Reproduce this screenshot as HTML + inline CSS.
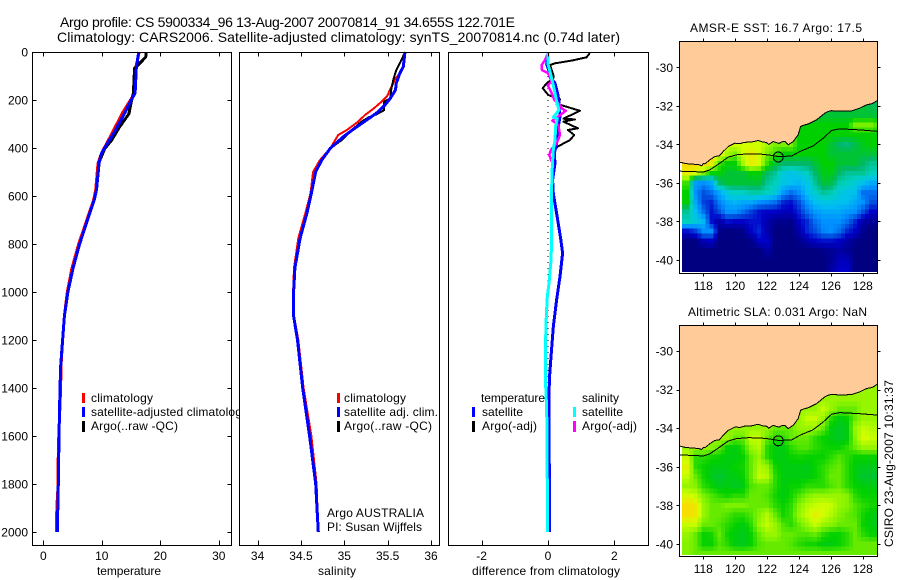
<!DOCTYPE html>
<html>
<head>
<meta charset="utf-8">
<title>Argo profile</title>
<style>
html,body{margin:0;padding:0;background:#fff;}
svg{display:block;}
text{font-family:"Liberation Sans",Arial,sans-serif;font-size:12px;fill:#000;}
.title{font-size:14px;}
</style>
</head>
<body>
<svg id="fig" xmlns="http://www.w3.org/2000/svg" width="900" height="580" viewBox="0 0 900 580">
  <rect x="0" y="0" width="900" height="580" fill="#fff"/>
  <text class="title" x="60" y="27" textLength="455" lengthAdjust="spacing">Argo profile: CS 5900334_96 13-Aug-2007 20070814_91 34.655S 122.701E</text>
  <text class="title" x="57" y="42" textLength="563" lengthAdjust="spacing">Climatology: CARS2006. Satellite-adjusted climatology: synTS_20070814.nc (0.74d later)</text>

  <g id="panel-t">
    <rect x="32.5" y="52.5" width="199" height="493" fill="#fff"/>
    <g id="lines-t"></g>
    <g>
      <rect x="82" y="393" width="3" height="10" fill="#f00"/>
      <rect x="82" y="407" width="3" height="10" fill="#00f"/>
      <rect x="82" y="421" width="3" height="11" fill="#000"/>
      <text x="91" y="402" textLength="62">climatology</text>
      <text x="91" y="416" textLength="157">satellite-adjusted climatology</text>
      <text x="91" y="430" textLength="87">Argo(..raw -QC)</text>
    </g>
    <text x="97" y="575" textLength="64">temperature</text>
  </g>

  <g id="panel-s">
    <rect x="239.5" y="52.5" width="200" height="493" fill="#fff"/>
    <g id="lines-s"></g>
    <g>
      <rect x="337" y="393" width="3" height="10" fill="#f00"/>
      <rect x="337" y="407" width="3" height="10" fill="#00f"/>
      <rect x="337" y="421" width="3" height="11" fill="#000"/>
      <text x="344" y="402" textLength="62">climatology</text>
      <text x="344" y="416" textLength="94">satellite adj. clim.</text>
      <text x="344" y="430" textLength="88">Argo(..raw -QC)</text>
    </g>
    <text x="327" y="517" textLength="97">Argo AUSTRALIA</text>
    <text x="327" y="531" textLength="95">PI: Susan Wijffels</text>
    <text x="318" y="575" textLength="38">salinity</text>
  </g>

  <g id="panel-d">
    <rect x="448.5" y="52.5" width="200" height="493" fill="#fff"/>
    <g id="lines-d"></g>
    <g>
      <text x="481" y="402" textLength="64">temperature</text>
      <text x="582" y="402" textLength="37">salinity</text>
      <rect x="472" y="407" width="3" height="10" fill="#00f"/>
      <rect x="472" y="421" width="3" height="11" fill="#000"/>
      <rect x="573" y="407" width="3" height="10" fill="#0ff"/>
      <rect x="573" y="421" width="3" height="11" fill="#f0f"/>
      <text x="482" y="416" textLength="41">satellite</text>
      <text x="482" y="430" textLength="55">Argo(-adj)</text>
      <text x="582" y="416" textLength="41">satellite</text>
      <text x="582" y="430" textLength="55">Argo(-adj)</text>
    </g>
    <text x="472" y="575" textLength="148">difference from climatology</text>
  </g>

  <text x="690" y="32" textLength="172">AMSR-E SST: 16.7 Argo: 17.5</text>
  <text x="688" y="316" textLength="179">Altimetric SLA: 0.031 Argo: NaN</text>
  <text transform="translate(893,547) rotate(-90)" textLength="167">CSIRO 23-Aug-2007 10:31:37</text>
  <g id="maps"></g>
</svg>

<script>
// ---------- Profile data (depth in m) ----------
const depthTicks = [0,200,400,600,800,1000,1200,1400,1600,1800,2000];
const tempTicks = [0,10,20,30];
const salTicks = [34,34.5,35,35.5,36];
const salTickLabels = ["34","34.5","35","35.5","36"];
const diffTicks = [-2,0,2];

const tempSatDepth = [0,67,171,200,255,332,387,422,465,575,617,800,900,1000,1100,1200,1300,1400,1600,1800,2000];
const tempSatValue = [16.3,15.9,15.7,15.05,13.9,12.2,10.8,9.95,9.5,9.1,8.7,6.2,5.1,4.2,3.6,3.3,3.0,2.85,2.68,2.56,2.4];
const tempClimDepth = [0,67,171,200,255,332,387,422,465,575,617,800,900,1000,1100,1200,1300,1400,1600,1700,1800,1900,2000];
const tempClimValue = [16.4,15.8,15.7,14.9,13.5,11.9,10.7,9.95,9.35,8.95,8.6,6.05,4.9,4.1,3.6,3.3,3.05,2.95,2.65,2.55,2.55,2.3,2.25];
const tempArgoDepth = [0,21,47,67,171,222,257,312,368,403,458,575,617,800,900,1000,1100,1200,1300,1400,1600,1800,2000];
const tempArgoValue = [17.6,17.5,16.5,15.6,15.4,14.9,14.65,13.05,11.65,10.5,9.55,9.1,8.7,6.2,5.1,4.2,3.6,3.3,3.0,2.85,2.68,2.56,2.4];

const salSatDepth = [0,61,89,130,158,193,221,255,283,318,353,401,450,499,588,671,776,900,1000,1100,1200,1300,1400,1600,1800,2000];
const salSatValue = [35.70,35.68,35.64,35.6,35.59,35.53,35.47,35.37,35.26,35.12,34.99,34.84,34.74,34.67,34.62,34.57,34.49,34.43,34.415,34.415,34.46,34.49,34.52,34.6,34.67,34.70];
const salClimDepth = [0,54,89,110,186,207,235,262,290,325,346,401,450,499,589,672,776,900,1000,1100,1200,1300,1400,1600,1800,2000];
const salClimValue = [35.70,35.69,35.64,35.59,35.49,35.43,35.34,35.24,35.16,35.03,34.93,34.84,34.72,34.64,34.61,34.55,34.47,34.42,34.41,34.42,34.47,34.5,34.53,34.62,34.68,34.70];
const salArgoDepth = [0,40,75,110,158,193,207,242,260,272,290,315,367,401,450,499,588,671,776,900,1000,1100,1200,1300,1400,1600,1800,2000];
const salArgoValue = [35.70,35.65,35.6,35.57,35.54,35.53,35.46,35.46,35.37,35.28,35.2,35.12,34.97,34.84,34.74,34.67,34.62,34.57,34.49,34.43,34.415,34.415,34.46,34.49,34.52,34.6,34.67,34.70];

const diffTSatDepth = [0,50,110,130,172,208,269,311,380,422,464,533,589,672,776,838,936,1033,1145,1270,1367,1546,2000];
const diffTSatValue = [0,-0.04,0.1,0.21,0.29,0.33,0.36,0.31,0.26,0.19,0.21,0.14,0.16,0.26,0.38,0.44,0.36,0.26,0.16,0.09,0.04,0.03,0.05];
const diffTArgoDepth = [5,22,36,47,54,96,110,130,151,179,197,215,245,278,281,290,318,325,346,367,394,420,480];
const diffTArgoValue = [1.26,1.16,0.71,0.21,0.06,0.16,0.16,-0.04,-0.16,0.01,0.36,0.25,0.96,0.46,0.81,0.46,0.9,0.6,0.79,0.66,0.29,0.15,0.15];
const diffSSatDepth = [0,50,110,158,205,242,272,278,311,367,408,478,561,776,867,964,1020,1103,1186,1395,1492,1800,2000];
const diffSSatValue = [0,0,0.11,0.19,0.26,0.33,0.16,0.28,0.23,0.21,0.16,0.13,0.11,0.11,0.09,0.03,-0.02,-0.05,-0.07,-0.07,-0.04,-0.02,-0.01];
const diffSArgoDepth = [5,33,54,75,89,124,138,172,200,221,235,245,264,286,304,346,380,408,429,457];
const diffSArgoValue = [0,-0.09,-0.19,-0.18,0.01,0.11,-0.01,0.11,0.19,0.36,0.41,0.53,0.36,0.13,0.31,0.36,0.26,0.09,0.04,0.11];
const zeroLineDepth = [0,2000];
const zeroLineValue = [0,0];

// ---------- Map data ----------
const latTicks = [30,32,34,36,38,40];
const lonTicks = [118,120,122,124,126,128];
const coastLon = [116.5,116.9,117.37,117.7,117.9,118.0,118.1,118.42,118.73,119.0,119.25,119.57,119.98,120.3,120.6,121.0,121.44,121.7,121.97,122.1,122.38,122.75,122.9,123.11,123.32,123.64,123.95,124.1,124.3,124.58,125.1,125.62,125.8,126.04,126.6,127.29,127.8,128.23,128.6,128.9];
const coastLat = [34.92,35.0,35.03,35.05,35.11,35.0,35.01,34.8,34.63,34.6,34.37,34.11,33.94,33.96,33.89,33.88,33.8,33.87,33.9,34.0,33.85,33.95,33.87,33.85,34.02,33.85,33.5,33.07,33.0,32.94,32.73,32.38,32.3,32.25,32.28,32.26,32.12,31.95,31.88,31.73];
const contourLon = [116.5,117.37,118,118.42,119.04,119.57,120.09,120.82,121.55,122.18,122.7,123.53,124.05,124.89,125.52,126.04,126.56,127.82,128.9];
const contourLat = [35.39,35.41,35.44,35.32,34.97,34.66,34.54,34.49,34.5,34.56,34.63,34.61,34.37,34.08,33.68,33.28,33.19,33.25,33.32];
const floatLon = 122.7;
const floatLat = 34.655;

const gridLonStart = 117;
const gridLatStart = 32;
const gridStep = 0.5;
// colour-index values, one row per 0.5 deg latitude from 32S to 40.5S, columns from 117E to 129E
const sstRows = [
[6.5,6.5,6.5,6.5,6.5,6.5,6.5,6.5,6.5,6.5,6.5,6.5,6.5,6.5,6.5,6.5,6.5,6.5,6.5,6.5,6.5,6.5,6.5,6.2,6],
[6.5,6.5,6.5,6.5,6.5,6.5,6.5,6.5,6.5,6.5,6.5,6.5,6.5,6.5,6.5,6.5,6.5,6.5,6.5,6.5,6.5,6.5,6.5,6.5,6.5],
[7,7,7,7,7,7,7,7,7,7,7,7,7,7,7,7,7,7,7,7,7,8,8,8,7.5],
[8,8,8,8,8,8,8,8,8,8,8,8,8,8,7,7,7,7,7,7,7,7,7,7,7],
[9,9,9,9,9,9,9,9,9,9,8.5,8,8,8,7,7,7,7,6.5,6,5.8,6.3,6.8,7,7],
[10,10,10,10,9.5,8.5,8,9,9.5,9,8,7.5,7,7,7,7,7,7,6.5,6.5,6.5,6.5,6.5,6.5,6.5],
[10,10,10,9.5,7.5,7,7,8.5,9.5,9,7.5,6.5,6,6,6,6,6.5,7,7,6.5,6.5,6.5,6,5.5,5.5],
[9.5,9,8,7,7,6.5,6.5,6.5,7,7,6,5.5,4.5,4.2,4.5,5,6,6.8,6.8,6,5.5,5.5,5.5,5,5],
[7.5,3.3,3,3.5,6,6.5,6.5,6.5,6.5,6.5,5.5,5,4.2,4,3.8,4.2,5.5,6.5,6.3,5.2,5,4.5,4,3.5,3.5],
[7,3,2,2.5,3.5,4.5,5,5,5.3,5.3,5,4.5,3.2,2.5,3,4,4.8,5.5,5.2,4.5,4.2,4,2.5,2.5,2.5],
[7,3.5,1.8,1.5,2.8,3.5,3.8,3.5,3.5,3,2.8,2.5,1.5,1.2,2,3.2,4,4.3,4.3,4,4,3.5,3,2,2],
[5.5,4,2.5,1.2,2,3,3,2.5,1.8,1.2,1,1,0.8,0.8,1.5,2.5,3.2,3.5,3.5,3.5,3.2,3,2,1,1],
[5,4.5,3.8,1.2,0.5,1.2,1,1,1.2,1.2,0.6,0.2,0.2,0.2,1,1.5,2.5,3,3,3,2.5,1.5,0.5,0.3,0.3],
[1.2,1.8,3,3,0.2,0,0,0.2,1,1.5,0.6,0,0,0,0.6,1.5,2,2.8,3,2.5,1.5,1,0.2,0,0],
[0,0,0.8,1,0,0,0,0,0.2,1,1,0,0,0,0.2,0.6,1,1.2,1.2,1,0.5,0.2,0,0,0],
[0,0,0,0,0,0,0,0,0,0,0.6,0,0,0,0,0,0,0.2,0.3,0.5,0.3,0,0,0,0],
[0,0,0,0,0,0,0,0,0,0,0,0,0,0,0,0,0,0,0.3,0.8,0.8,0,0,0,0],
[0,0,0,0,0,0,0,0,0,0,0,0,0,0,0,0,0,0,0.5,1,1,0,0,0,0]
];
const slaRows = [
[8.5,8.5,8.5,8.5,8.5,8.5,8.5,8.5,8.5,8.5,8.5,8.5,8.5,8.5,8.5,8.5,8.5,8.5,8.5,8.5,8.5,8.5,8.5,8.5,8.5],
[8.5,8.5,8.5,8.5,8.5,8.5,8.5,8.5,8.5,8.5,8.5,8.5,8.5,8.5,8.5,8.5,8.5,8.5,8.5,8.5,8.5,8.5,8.5,8.5,8.5],
[8.5,8.5,8.5,8.5,8.5,8.5,8.5,8.5,8.5,8.5,8.5,8.5,8.5,8.5,8.5,8.5,8.5,9,8.5,8,8,8,8.5,8.5,8.5],
[8.5,8.5,8.5,8.5,8.5,8.5,8.5,8.5,8.5,8.5,8.5,8.5,8.5,8.5,8.5,9,9,8.5,7.5,7,7.2,8,8.5,8.5,8.5],
[8.5,8.5,8.5,8.5,8.5,8.5,8.5,8.5,8.5,8.5,8.5,8,8,8,8.5,8.5,8.5,8,7,6.8,7,8.5,9,8.8,8.8],
[8.5,8.5,8.5,8.5,8.5,8.5,8,8,9,9,8,7.5,7.5,8,8,8,7.5,7.2,7,6.8,7,8.3,9.3,9,9],
[8.5,8.5,8.5,8.3,8,7.2,7,7.5,8.5,8.8,7.5,7,7,7.5,7.8,7.8,7.5,7.3,7.2,7.2,7.5,8,8.5,8.5,8.5],
[9,7.5,7.5,7.3,7.2,7,7,7.2,8,8.5,7.5,7,7,7.2,7.3,7.2,7.2,7.2,7.5,7.8,7.5,7.2,7.2,7.2,7.2],
[9.5,7.5,7.2,7,7,7,7.2,7.3,8,8.8,8.5,7.3,7,7,7,6.9,7.2,7.5,7.8,8,7.5,7,6.9,6.9,6.9],
[9,8,7.3,6.9,6.7,6.9,7,7.2,8,9,8.8,7.5,7,7,7,7,7.2,7.5,8,8,7.5,7,6.7,6.7,6.7],
[8.5,8.3,7.5,7.2,6.9,7,6.8,7,7.8,8,8,7.5,7,7.2,7.2,7.5,7.5,7.5,7.8,8,7.5,7.2,7,7,7],
[9.3,9,8.2,7.8,7.5,7.3,7.5,7.5,8,8,7.8,7.3,7,7.3,7.8,8.2,8.5,8.5,8.5,8.5,8.3,7.5,7.2,7.2,7.2],
[10,9.8,8.5,8,8,8.2,8.2,8.2,8,8,8,7.5,7.2,7.5,8.3,8.8,9,9.2,9,8.5,8.3,7.8,7.5,7.3,7.3],
[10,9.8,8.5,8,8,7.8,7.5,7.5,7.8,8.3,8.8,8,7.3,7.6,8.5,9,9.6,9.2,8.8,8.3,8,7.8,7.3,7,7],
[9,9,8,8,7.8,7.5,7.2,7,7.5,8.5,9,8.5,7.8,7.5,8,8.5,9,8.5,8.3,8,8,8,7.2,7,7],
[8.5,8,7.2,7.3,8,7.3,7,6.9,7.2,8,8.5,8.5,8,8,7.8,7.8,8,7.5,7.2,7.2,7.5,8,7.5,7.2,7.2],
[8.3,8,7.2,7.2,7.8,7.5,7,6.9,7.2,7.8,8,8,8,7.8,7.5,7.3,7.3,7,7,7.2,7.5,8,8,8,8],
[8.3,8,8,8,8,8,8,8,8,8,8,8,8,8,8,8,8,8,8,8,8,8,8,8,8]
];
const paletteStops = ["#000080","#0000c8","#0050e0","#0090ff","#00c0f0","#00d0c0","#00b868","#00d000","#78f000","#d0ff00","#ffd800"];

// ---------- Helpers ----------
const NS = "http://www.w3.org/2000/svg";
function mk(parent, tag, attrs, txt) {
  const el = document.createElementNS(NS, tag);
  for (const k in attrs) el.setAttribute(k, attrs[k]);
  if (txt !== undefined) el.textContent = txt;
  parent.appendChild(el);
  return el;
}
const depthY = d => 52 + 0.24 * d;
const tempX = v => 43.3 + 5.85 * v;
const salX = v => 257.6 + 86.7 * (v - 34);
const diffX = v => 548 + 33.2 * v;

function drawLine(parentId, xFn, depths, values, color, width, name, dash) {
  const pts = depths.map((d, i) => xFn(values[i]).toFixed(1) + "," + depthY(d).toFixed(1)).join(" ");
  const attrs = {points: pts, fill: "none", stroke: color, "stroke-width": width, "shape-rendering": "crispEdges", "stroke-linejoin": "round"};
  if (dash) attrs["stroke-dasharray"] = dash;
  const el = mk(document.getElementById(parentId), "polyline", attrs);
  
  
}

drawLine("lines-t", tempX, tempClimDepth, tempClimValue, "#f00", 3, "temperature-climatology-line");
drawLine("lines-t", tempX, tempArgoDepth, tempArgoValue, "#000", 3, "temperature-argo-line");
drawLine("lines-t", tempX, tempSatDepth, tempSatValue, "#00f", 3, "temperature-satellite-line");

drawLine("lines-s", salX, salClimDepth, salClimValue, "#f00", 2, "salinity-climatology-line");
drawLine("lines-s", salX, salArgoDepth, salArgoValue, "#000", 2, "salinity-argo-line");
drawLine("lines-s", salX, salSatDepth, salSatValue, "#00f", 3, "salinity-satellite-line");

drawLine("lines-d", diffX, zeroLineDepth, zeroLineValue, "#000", 1, "zero-reference-line", "1 5");
drawLine("lines-d", diffX, diffTArgoDepth, diffTArgoValue, "#000", 2, "difference-temperature-argo-line");
drawLine("lines-d", diffX, diffTSatDepth, diffTSatValue, "#00f", 3, "difference-temperature-satellite-line");
drawLine("lines-d", diffX, diffSArgoDepth, diffSArgoValue, "#f0f", 2.5, "difference-salinity-argo-line");
drawLine("lines-d", diffX, diffSSatDepth, diffSSatValue, "#0ff", 3, "difference-salinity-satellite-line");

// Panel frames, inward ticks and tick labels
function panelAxes(panelId, left, right, xFn, xVals, xLabels, showDepth, prefix) {
  const g = document.getElementById(panelId);
  const top = 52.5, bottom = 545.5;
  const frame = mk(g, "rect", {x: left, y: top, width: right - left, height: bottom - top, fill: "none", stroke: "#000", "stroke-width": 1, "shape-rendering": "crispEdges"});
  
  
  xVals.forEach((v, i) => {
    const x = Math.round(xFn(v)) + 0.5;
    const t1 = mk(g, "line", {x1: x, x2: x, y1: top, y2: top + 4, stroke: "#000", "shape-rendering": "crispEdges"});
    
    
    const t2 = mk(g, "line", {x1: x, x2: x, y1: bottom, y2: bottom - 5, stroke: "#000", "shape-rendering": "crispEdges"});
    
    
    const lab = mk(g, "text", {x: xFn(v), y: 560, "text-anchor": "middle"}, xLabels[i]);
    
    
  });
  if (showDepth) {
    depthTicks.forEach(d => {
      const y = Math.round(depthY(d)) + 0.5;
      const t1 = mk(g, "line", {x1: left, x2: left + 4, y1: y, y2: y, stroke: "#000", "shape-rendering": "crispEdges"});
      
      
      const t2 = mk(g, "line", {x1: right, x2: right - 4, y1: y, y2: y, stroke: "#000", "shape-rendering": "crispEdges"});
      
      
      const lab = mk(g, "text", {x: 28, y: depthY(d) + 4.5, "text-anchor": "end"}, String(d));
      
      
    });
  }
}
panelAxes("panel-t", 32.5, 231.5, tempX, tempTicks, tempTicks.map(String), true, "temperature");
panelAxes("panel-s", 239.5, 439.5, salX, salTicks, salTickLabels, false, "salinity");
panelAxes("panel-d", 448.5, 648.5, diffX, diffTicks, diffTicks.map(String), false, "difference");

// Maps
function paletteColor(v) {
  const c = Math.max(0, Math.min(paletteStops.length - 1.001, v));
  const i = Math.floor(c), f = c - i;
  const a = paletteStops[i], b = paletteStops[i + 1];
  const ch = s => [1, 3, 5].map(p => parseInt(s.substr(p, 2), 16));
  const ca = ch(a), cb = ch(b);
  return "rgb(" + ca.map((x, k) => Math.round(x + (cb[k] - x) * f)).join(",") + ")";
}
function sampleGrid(rows, lon, lat) {
  const fy = Math.max(0, Math.min(rows.length - 1, (lat - gridLatStart) / gridStep));
  const fx = Math.max(0, Math.min(rows[0].length - 1, (lon - gridLonStart) / gridStep));
  const y0 = Math.floor(fy), x0 = Math.floor(fx);
  const y1 = Math.min(rows.length - 1, y0 + 1), x1 = Math.min(rows[0].length - 1, x0 + 1);
  const ty = fy - y0, tx = fx - x0;
  return (rows[y0][x0] * (1 - tx) + rows[y0][x1] * tx) * (1 - ty) + (rows[y1][x0] * (1 - tx) + rows[y1][x1] * tx) * ty;
}

function drawMap(rows, prefix, top, bottom, lat30Y, pxPerLat, colourOffset) {
  const root = document.getElementById("maps");
  const g = mk(root, "g", {});
  
  
  const left = 679.5, right = 877.5;
  const lonX = lon => 703.3 + (lon - 118) * 15.95;
  const latY = lat => lat30Y + (lat - 30) * pxPerLat;
  const clipId = prefix + "-clip";
  const defs = mk(g, "defs", {});
  const cp = mk(defs, "clipPath", {id: clipId});
  mk(cp, "rect", {x: 682, y: top, width: right - 682, height: bottom - 1.5 - top});
  const cells = mk(g, "g", {"clip-path": "url(#" + clipId + ")"});
  
  
  const sub = gridStep / 2;
  for (let la = gridLatStart - sub; la <= gridLatStart + gridStep * (rows.length - 1) + sub + 1e-6; la += sub) {
    for (let lo = gridLonStart - sub * 2; lo <= gridLonStart + gridStep * (rows[0].length - 1) + 1e-6; lo += sub) {
      const cell = mk(cells, "rect", {
        x: lonX(lo - sub / 2).toFixed(1), y: latY(la - sub / 2).toFixed(1),
        width: (sub * 15.95 + 0.6).toFixed(1), height: (sub * pxPerLat + 0.6).toFixed(1),
        fill: paletteColor(sampleGrid(rows, lo, la) + colourOffset), "shape-rendering": "crispEdges"
      });
      
      
    }
  }
  const coastPts = coastLon.map((lo, i) => Math.max(left, lonX(lo)).toFixed(1) + "," + latY(coastLat[i]).toFixed(1));
  const land = mk(g, "polygon", {points: coastPts.join(" ") + " " + right + "," + top + " " + left + "," + top, fill: "#ffcc99", stroke: "none"});
  
  
  const coast = mk(g, "polyline", {points: coastPts.join(" "), fill: "none", stroke: "#000", "stroke-width": 1, "shape-rendering": "crispEdges"});
  
  
  const contour = mk(g, "polyline", {points: contourLon.map((lo, i) => lonX(lo).toFixed(1) + "," + latY(contourLat[i]).toFixed(1)).join(" "), fill: "none", stroke: "#000", "stroke-width": 1, "shape-rendering": "crispEdges"});
  
  
  const marker = mk(g, "circle", {cx: lonX(floatLon), cy: latY(floatLat), r: 5, fill: "none", stroke: "#000", "stroke-width": 1, "shape-rendering": "crispEdges"});
  
  
  const frame = mk(g, "rect", {x: left, y: top, width: right - left, height: bottom - top, fill: "none", stroke: "#000", "stroke-width": 1, "shape-rendering": "crispEdges"});
  
  
  latTicks.forEach(la => {
    const y = Math.round(latY(la)) + 0.5;
    const t1 = mk(g, "line", {x1: left - 3, x2: left, y1: y, y2: y, stroke: "#000", "shape-rendering": "crispEdges"});
    
    
    const t2 = mk(g, "line", {x1: right, x2: right + 3, y1: y, y2: y, stroke: "#000", "shape-rendering": "crispEdges"});
    
    
    const lab = mk(g, "text", {x: 673, y: latY(la) + 4.5, "text-anchor": "end"}, "-" + la);
    
    
  });
  lonTicks.forEach(lo => {
    const x = Math.round(lonX(lo)) + 0.5;
    const t1 = mk(g, "line", {x1: x, x2: x, y1: top - 3, y2: top, stroke: "#000", "shape-rendering": "crispEdges"});
    
    
    const t2 = mk(g, "line", {x1: x, x2: x, y1: bottom, y2: bottom + 3, stroke: "#000", "shape-rendering": "crispEdges"});
    
    
    const lab = mk(g, "text", {x: lonX(lo), y: bottom + 16.5, "text-anchor": "middle"}, String(lo));
    
    
  });
}
drawMap(sstRows, "sst", 41.5, 273.5, 67.3, 19.27, 0);
drawMap(slaRows, "sla", 325.5, 556.5, 351, 19.3, -0.15);
</script>
</body>
</html>
